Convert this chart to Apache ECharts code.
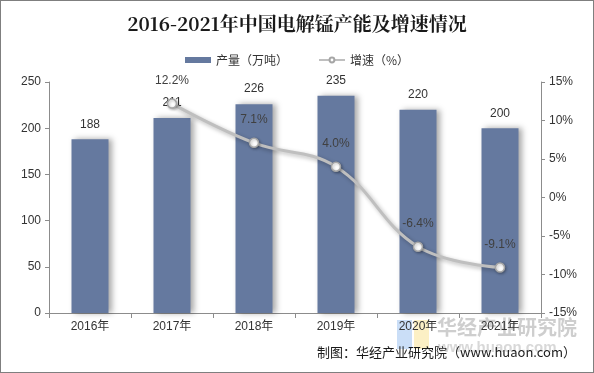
<!DOCTYPE html>
<html><head><meta charset="utf-8">
<script src="https://cdn.jsdelivr.net/npm/echarts@6/dist/echarts.min.js"></script>
<style>html,body{margin:0;padding:0;background:#fff}#c{width:594px;height:373px;box-sizing:border-box;border:1px solid #7f7f7f}</style>
</head><body><div id="c"></div>
<script>
const categories = ['2016年','2017年','2018年','2019年','2020年','2021年'];
const output = [188, 211, 226, 235, 220, 200];
const growth = [null, 12.2, 7.1, 4.0, -6.4, -9.1];
const leftTicks = [0, 250, 50];
const rightTicks = [-15, 15, 5];

const chart = echarts.init(document.getElementById('c'), null, {renderer:'canvas'});
const F = '"Liberation Sans", Arial, "Noto Sans CJK SC", sans-serif';
chart.setOption({
  animation:false,
  title:{text:'2016-2021年中国电解锰产能及增速情况', left:'center', top:8,
    textStyle:{fontFamily:'"Noto Serif CJK SC","Noto Sans CJK SC",serif', fontSize:19, fontWeight:'bold', color:'#1a1a1a'}},
  legend:{top:48, left:'center', itemGap:30, itemWidth:26, itemHeight:6,
    textStyle:{fontFamily:'"Noto Sans CJK SC",sans-serif', fontSize:12, color:'#333'},
    data:[{name:'产量（万吨）', icon:'rect'}, {name:'增速（%）'}]},
  grid:{left:48, right:52, top:81, bottom:59},
  xAxis:{type:'category', data:categories,
    axisLine:{lineStyle:{color:'#8c8c8c'}}, axisTick:{show:true, length:5, lineStyle:{color:'#8c8c8c'}},
    axisLabel:{fontFamily:F, fontSize:12, color:'#333', margin:8}},
  yAxis:[
    {type:'value', min:leftTicks[0], max:leftTicks[1], interval:leftTicks[2],
     axisLine:{show:true, lineStyle:{color:'#8c8c8c'}}, axisTick:{show:true, length:4, lineStyle:{color:'#8c8c8c'}},
     splitLine:{show:false}, axisLabel:{fontFamily:F, fontSize:12, color:'#333', margin:8}},
    {type:'value', min:rightTicks[0], max:rightTicks[1], interval:rightTicks[2], position:'right',
     axisLine:{show:true, lineStyle:{color:'#8c8c8c'}}, axisTick:{show:true, length:4, lineStyle:{color:'#8c8c8c'}},
     splitLine:{show:false}, axisLabel:{fontFamily:F, fontSize:12, color:'#333', margin:8, formatter:'{value}%'}}
  ],
  series:[
    {name:'产量（万吨）', type:'bar', data:output, barWidth:37, yAxisIndex:0,
     itemStyle:{color:'#65799f', shadowColor:'rgba(0,0,0,0.35)', shadowBlur:6, shadowOffsetX:3, shadowOffsetY:0},
     label:{show:true, position:'top', distance:9, fontFamily:F, fontSize:12, color:'#333'}},
    {name:'增速（%）', type:'line', data:growth, yAxisIndex:1, smooth:0.4, symbol:'circle', symbolSize:9,
     lineStyle:{color:'#bfbfbf', width:3, shadowColor:'rgba(0,0,0,0.3)', shadowBlur:4, shadowOffsetX:2, shadowOffsetY:2},
     itemStyle:{color:'#fff', borderColor:'#a6a6a6', borderWidth:1.5, shadowColor:'rgba(0,0,0,0.3)', shadowBlur:3, shadowOffsetX:1, shadowOffsetY:1},
     label:{show:true, position:'top', distance:12, fontFamily:F, fontSize:12, color:'#404040', formatter:p=>p.value.toFixed(1)+'%'}}
  ],
  graphic:[
    {type:'rect', left:396, top:319, silent:true, z:-1, shape:{width:15, height:29}, style:{fill:'rgba(150,190,240,0.5)'}},
    {type:'rect', left:413, top:319, silent:true, z:-1, shape:{width:15, height:29}, style:{fill:'rgba(250,225,140,0.5)'}},
    {type:'text', left:436, top:316, silent:true, z:-1, style:{text:'华经产业研究院', fontSize:20, fontWeight:'bold', fontFamily:'"Noto Sans CJK SC",sans-serif', fill:'rgba(190,190,190,0.75)'}},
    {type:'text', left:437, top:339, silent:true, z:-1, style:{text:'www.huaon.com', fontSize:15, fontWeight:'bold', fontFamily:F, fill:'rgba(190,190,190,0.6)'}},
    {type:'text', right:17, top:345, style:{text:'制图：华经产业研究院（www.huaon.com）', fontSize:13, fontFamily:'"Noto Sans CJK SC",sans-serif', fill:'#1a1a1a'}}
  ]
});
</script></body></html>
